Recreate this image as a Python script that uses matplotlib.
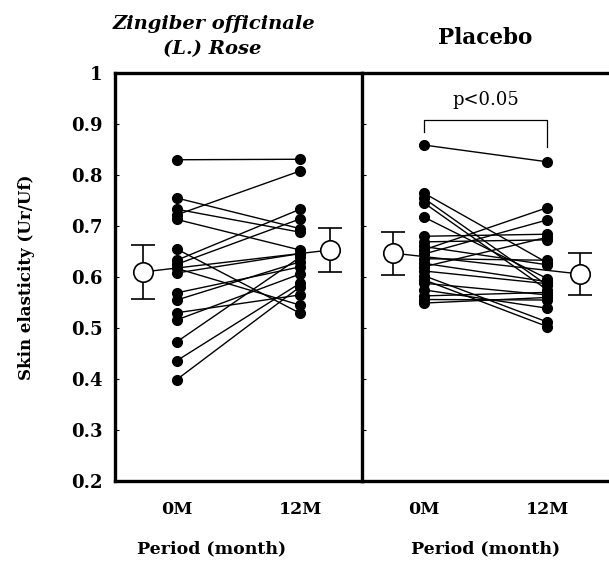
import matplotlib.pyplot as plt

# skin elasticity (Ur/Uf), each subject at 0M and 12M
ginger_0m = [0.83, 0.755, 0.733, 0.722, 0.713, 0.655, 0.633, 0.625, 0.617,
             0.608, 0.569, 0.555, 0.530, 0.516, 0.473, 0.436, 0.399]
ginger_12m = [0.831, 0.695, 0.688, 0.808, 0.653, 0.529, 0.733, 0.714, 0.545,
              0.646, 0.620, 0.630, 0.565, 0.606, 0.639, 0.588, 0.581]

placebo_0m = [0.859, 0.765, 0.755, 0.746, 0.718, 0.680, 0.669, 0.660, 0.653,
              0.645, 0.636, 0.627, 0.620, 0.612, 0.603, 0.595, 0.588, 0.575,
              0.563, 0.556, 0.549]
placebo_12m = [0.826, 0.628, 0.584, 0.575, 0.597, 0.684, 0.673, 0.624, 0.736,
               0.712, 0.633, 0.591, 0.678, 0.587, 0.512, 0.503, 0.565, 0.539,
               0.570, 0.555, 0.560]

# group mean and error (read from the open circles)
ginger_mean = [0.610, 0.653]
ginger_err = [0.053, 0.043]
placebo_mean = [0.647, 0.606]
placebo_err = [0.042, 0.042]

periods = ['0M', '12M']
yticks = [0.2, 0.3, 0.4, 0.5, 0.6, 0.7, 0.8, 0.9, 1]
ytick_labels = ['0.2', '0.3', '0.4', '0.5', '0.6', '0.7', '0.8', '0.9', '1']

serif = 'DejaVu Serif'

fig = plt.figure(figsize=(6.09, 5.62), dpi=100)
ax1 = fig.add_axes([0.189, 0.144, 0.405, 0.726])
ax2 = fig.add_axes([0.594, 0.144, 0.406, 0.726])


def draw_panel(ax, before, after, mean, err, mean_x, label_x):
    for a, b in zip(before, after):
        ax.plot([0, 1], [a, b], color='black', lw=1.0, zorder=2)
    ax.plot([0] * len(before), before, 'o', color='black', ms=7, zorder=3)
    ax.plot([1] * len(after), after, 'o', color='black', ms=7, zorder=3)
    ax.plot(mean_x, mean, color='black', lw=1.0, zorder=1)
    ax.errorbar(mean_x, mean, yerr=err, fmt='o', color='black', mfc='white',
                mec='black', ms=14, mew=1.2, elinewidth=1.2, capsize=8.5,
                capthick=1.2, zorder=4)
    ax.set_xlim(-0.5, 1.5)
    ax.set_ylim(0.2, 1.0)
    ax.set_xticks([0, 1])
    ax.set_xticklabels(periods, fontfamily=serif, fontweight='bold', fontsize=12.5)
    ax.tick_params(axis='x', length=0, pad=14)
    ax.set_xlabel('Period (month)', fontfamily=serif, fontweight='bold',
                  fontsize=12.5)
    ax.xaxis.set_label_coords(label_x, -0.145)
    for s in ax.spines.values():
        s.set_linewidth(2.4)


draw_panel(ax1, ginger_0m, ginger_12m, ginger_mean, ginger_err,
           [-0.273, 1.241], 0.39)
draw_panel(ax2, placebo_0m, placebo_12m, placebo_mean, placebo_err,
           [-0.249, 1.265], 0.5)

ax1.set_yticks(yticks)
ax1.set_yticklabels(ytick_labels, fontfamily=serif, fontweight='bold', fontsize=13)
ax1.tick_params(axis='y', direction='in', length=3, width=0.8, pad=9)
ax1.set_ylabel('Skin elasticity (Ur/Uf)', fontfamily=serif, fontweight='bold',
               fontsize=12, labelpad=26)
ax1.spines['right'].set_visible(False)

ax2.set_yticks(yticks)
ax2.set_yticklabels([])
ax2.tick_params(axis='y', direction='in', length=3, width=0.8)
ax2.spines['right'].set_visible(False)

# significance bracket
ax2.plot([0, 0, 1, 1], [0.885, 0.908, 0.908, 0.855], color='black', lw=0.9)
ax2.text(0.5, 0.93, 'p<0.05', ha='center', va='bottom', fontfamily=serif,
         fontsize=13)

fig.text(0.352, 0.958, 'Zingiber officinale', ha='center', va='center',
         fontfamily=serif, fontweight='bold', fontstyle='italic', fontsize=14)
fig.text(0.348, 0.912, '(L.) Rose', ha='center', va='center',
         fontfamily=serif, fontweight='bold', fontstyle='italic', fontsize=14)
fig.text(0.797, 0.932, 'Placebo', ha='center', va='center',
         fontfamily=serif, fontweight='bold', fontsize=15.5)

fig.savefig('out.png', dpi=100)
